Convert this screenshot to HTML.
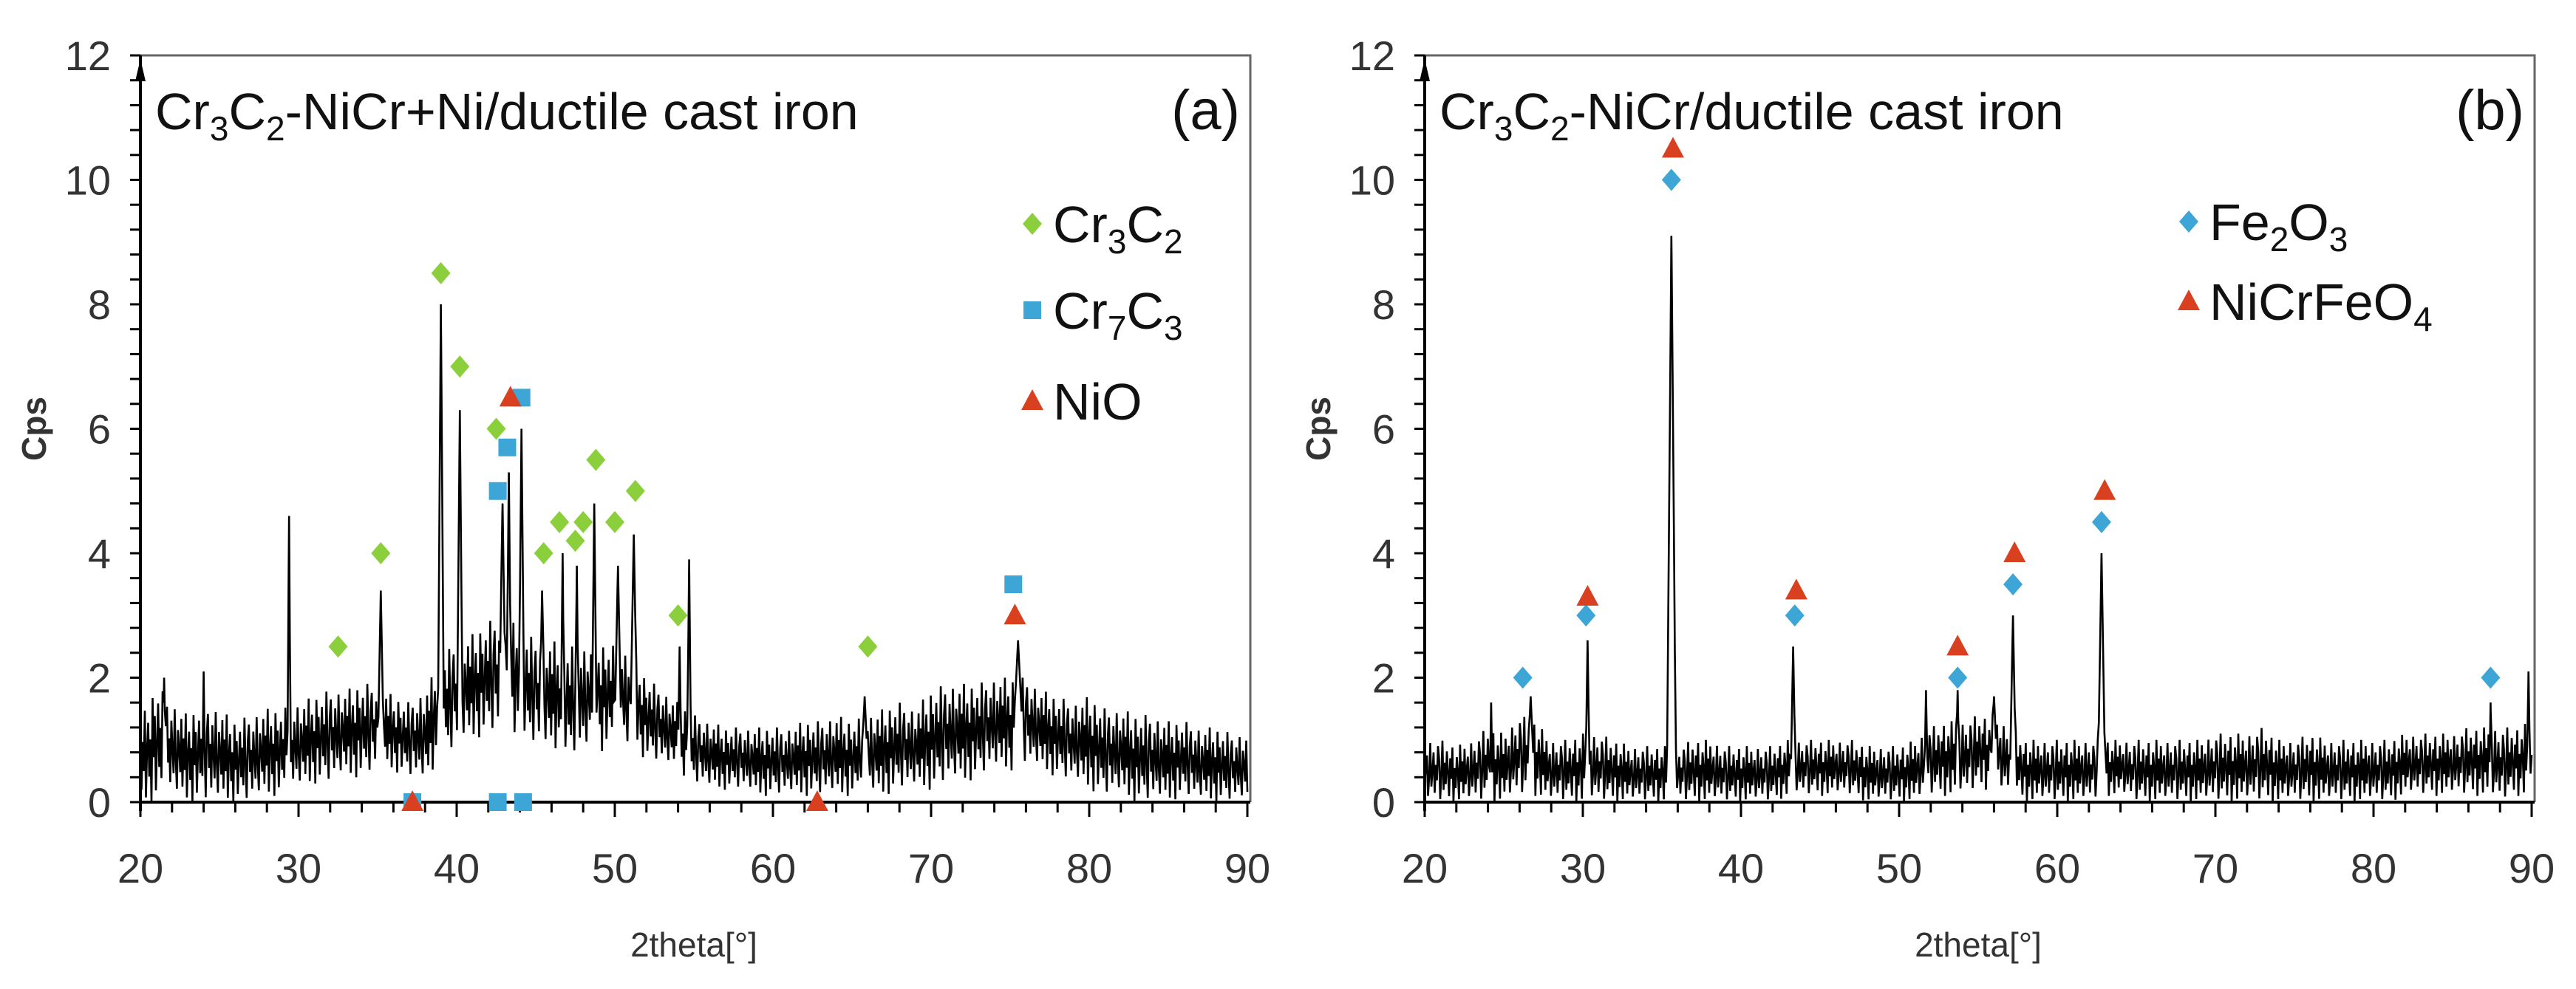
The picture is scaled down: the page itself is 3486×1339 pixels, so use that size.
<!DOCTYPE html>
<html><head><meta charset="utf-8"><style>
html,body{margin:0;padding:0;background:#fff;}
svg{display:block;font-family:"Liberation Sans",sans-serif;}
</style></head><body>
<svg id="chart" width="3486" height="1339" viewBox="0 0 3486 1339">
<g id="pa"></g>
<g id="pb"></g>
</svg>
<script>
const NS="http://www.w3.org/2000/svg";
// ---- data ----
const xTicks=[20,30,40,50,60,70,80,90];
const yTicks=[0,2,4,6,8,10,12];
// Panel a noise envelope per degree 20..90
const aLo=[0.0,0.0,0.1,0.0,0.0,0.0,0.0,0.0,0.1,0.1,0.2,0.3,0.3,0.4,0.4,0.5,0.5,0.4,0.3,0.6,0.9,1.0,1.1,1.1,1.0,0.9,0.8,0.7,0.8,0.8,0.9,0.8,0.7,0.6,0.5,0.3,0.2,0.2,0.2,0.1,0.1,0.1,0.1,0.1,0.1,0.1,0.1,0.1,0.2,0.2,0.2,0.3,0.3,0.4,0.5,0.5,0.6,0.5,0.4,0.3,0.2,0.1,0.1,0.0,0.0,0.0,0.1,0.0,0.0,0.0,0.0];
const aHi=[1.3,1.9,1.6,1.4,1.6,1.5,1.3,1.4,1.5,1.5,1.6,1.7,1.8,1.8,1.9,1.9,1.7,1.6,1.8,2.3,2.6,2.7,2.9,3.0,2.8,2.6,2.6,2.5,2.5,2.6,2.5,2.4,2.0,1.8,1.6,1.4,1.3,1.2,1.2,1.2,1.2,1.2,1.3,1.3,1.4,1.3,1.4,1.5,1.6,1.5,1.8,1.9,1.9,1.9,2.0,2.0,2.0,1.8,1.7,1.6,1.7,1.5,1.5,1.4,1.4,1.3,1.3,1.2,1.2,1.1,1.1];
const aPeakPos=[21.5,24.0,29.4,35.2,39.0,40.2,42.9,43.3,44.1,45.4,46.7,47.6,48.7,50.2,51.2,54.1,54.7,65.8,75.5];
const aPeakH=[2.0,2.1,4.6,3.4,8.0,6.3,4.8,5.3,6.0,3.4,4.0,3.8,4.8,3.8,4.3,2.5,3.9,1.7,2.6];
const aPeakW=[0.15,0.1,0.12,0.25,0.22,0.22,0.3,0.2,0.22,0.25,0.15,0.15,0.2,0.3,0.3,0.15,0.15,0.3,0.5];
// Panel b
const bLo=[0.0,0.0,0.0,0.0,0.0,0.0,0.1,0.1,0.0,0.0,0.0,0.0,0.0,0.0,0.0,0.0,0.0,0.0,0.0,0.0,0.0,0.0,0.0,0.1,0.1,0.1,0.1,0.1,0.0,0.0,0.0,0.0,0.1,0.1,0.1,0.2,0.2,0.1,0.0,0.0,0.0,0.0,0.0,0.1,0.1,0.0,0.0,0.0,0.0,0.0,0.0,0.0,0.0,0.0,0.0,0.0,0.0,0.0,0.0,0.0,0.0,0.0,0.1,0.1,0.1,0.1,0.1,0.1,0.0,0.1,0.1];
const bHi=[1.0,1.0,0.9,1.0,1.2,1.1,1.4,1.3,1.0,1.0,1.1,1.1,1.0,0.9,0.9,0.9,0.9,1.0,1.0,0.9,0.9,0.9,0.9,1.0,1.0,1.0,1.0,1.0,0.9,0.9,0.9,1.0,1.2,1.3,1.3,1.4,1.4,1.2,1.0,1.0,1.0,1.0,1.0,1.0,1.0,1.0,1.0,1.0,1.0,1.0,1.1,1.1,1.1,1.2,1.0,1.0,1.1,1.0,1.0,1.0,1.0,1.0,1.1,1.1,1.1,1.1,1.2,1.2,1.2,1.2,1.3];
const bPeakPos=[24.2,26.7,30.3,35.6,43.3,51.7,53.7,56.0,57.2,62.8,87.4,89.8];
const bPeakH=[1.6,1.7,2.6,9.1,2.5,1.8,1.8,1.7,3.0,4.0,1.6,2.1];
const bPeakW=[0.1,0.3,0.15,0.3,0.18,0.1,0.15,0.3,0.22,0.25,0.1,0.1];
const jitter=[0.9,0.15,0.7,0.35,1.0,0.05,0.55,0.8,0.25,0.6,0.0,0.95,0.4,0.75,0.1,0.5,0.85,0.3,0.65,0.2,1.0,0.45,0.05,0.7,0.9,0.35,0.6,0.15,0.8,0.5,0.25,0.95,0.4,0.1,0.75,0.55,0.3];
// markers
const aCr3C2X=[32.5,35.2,39.0,40.2,42.5,45.5,46.5,47.5,48.0,48.8,50.0,51.3,54.0,66.0];
const aCr3C2Y=[2.5,4.0,8.5,7.0,6.0,4.0,4.5,4.2,4.5,5.5,4.5,5.0,3.0,2.5];
const aCr7C3X=[37.2,42.6,43.2,44.1,42.6,44.2,75.2];
const aCr7C3Y=[0,5.0,5.7,6.5,0,0,3.5];
const aNiOX=[37.2,43.4,62.8,75.3];
const aNiOY=[0,6.5,0,3.0];
const bFe2O3X=[26.2,30.2,35.6,43.4,53.7,57.2,62.8,87.4];
const bFe2O3Y=[2.0,3.0,10.0,3.0,2.0,3.5,4.5,2.0];
const bNiCrX=[30.3,35.7,43.5,53.7,57.3,63.0];
const bNiCrY=[3.3,10.5,3.4,2.5,4.0,5.0];
const GREEN="#8ccf3c",BLUE="#3ea6d6",RED="#d8401f";

function mk(tag,attrs,parent){const e=document.createElementNS(NS,tag);for(const k in attrs)e.setAttribute(k,attrs[k]);parent.appendChild(e);return e;}

function panel(g,L,R,cfg){
  const T=75,B=1086;
  const sx=v=>L+(v-20)/70*(R-L), sy=v=>B-v/12*(B-T);
  let f=mk('path',{d:`M${L} ${T}H${R+4}V${B}`,fill:'none',stroke:'#666','stroke-width':3},g);
  
  // sample grid: regular steps plus exact peak positions
  let xs=[];
  for(let x=20;x<=90.0001;x+=0.07)xs.push({x:x,k:xs.length});
  cfg.pp.forEach(p=>xs.push({x:p,k:-1}));
  xs.sort((a,b)=>a.x-b.x);
  let pts=[];
  xs.forEach(o=>{
    const x=o.x;
    const i=Math.min(69,Math.floor(x-20)),t=x-20-i;
    const lo=cfg.lo[i]*(1-t)+cfg.lo[i+1]*t, hi=cfg.hi[i]*(1-t)+cfg.hi[i+1]*t;
    let v=o.k>=0?lo+(hi-lo)*cfg.jit[o.k%cfg.jit.length]:lo;
    for(let k=0;k<cfg.pp.length;k++){const d=(x-cfg.pp[k])/cfg.pw[k];const p=cfg.ph[k]*Math.max(0,1-Math.abs(d));if(p>v)v=p;}
    pts.push(sx(x).toFixed(1)+','+sy(v).toFixed(1));
  });
  let s=mk('polyline',{points:pts.join(' '),fill:'none',stroke:'#000','stroke-width':2.6,'stroke-linejoin':'miter'},g);
  
  let ax=mk('line',{x1:L,y1:B,x2:R+4,y2:B,stroke:'#000','stroke-width':4},g);
  
  let ay=mk('line',{x1:L,y1:B+12,x2:L,y2:T,stroke:'#000','stroke-width':4},g);
  
  let ar=mk('path',{d:`M${L-7} ${T+35}L${L} ${T+5}L${L+7} ${T+35}Z`,fill:'#000'},g);
  
  for(let v=0;v<=12.001;v+=0.4){let t=mk('line',{x1:L-14,y1:sy(v),x2:L,y2:sy(v),stroke:'#000','stroke-width':3},g);
    }
  for(let v=20;v<=90;v+=2){let t=mk('line',{x1:sx(v),y1:B,x2:sx(v),y2:B+(v%10==0?20:14),stroke:'#000','stroke-width':3},g);
    }
  yTicks.forEach(v=>{let t=mk('text',{x:L-40,y:sy(v)+20,'text-anchor':'end','font-size':56,fill:'#333'},g);t.textContent=v;
    });
  xTicks.forEach(v=>{let t=mk('text',{x:sx(v),y:1195,'text-anchor':'middle','font-size':56,fill:'#333'},g);t.textContent=v;
    });
  let xt=mk('text',{x:(L+R)/2,y:1295,'text-anchor':'middle','font-size':46,fill:'#333'},g);xt.textContent='2theta[°]';
  
  let yt=mk('text',{x:0,y:0,transform:`translate(${L-128},${sy(6)}) rotate(-90)`,'text-anchor':'middle','font-size':46,'font-weight':'bold',fill:'#333'},g);yt.textContent='Cps';
  
  let ti=mk('text',{x:L+20,y:175,'font-size':70,fill:'#111'},g);
  ti.innerHTML=cfg.title;
  
  let lb=mk('text',{x:R-10,y:175,'text-anchor':'end','font-size':76,fill:'#111'},g);lb.textContent=cfg.label;
  
  return {sx,sy};
}
function marker(g,type,cx,cy,color,name){
  let e;
  if(type==='d')e=mk('path',{d:`M${cx} ${cy-15}L${cx+13} ${cy}L${cx} ${cy+15}L${cx-13} ${cy}Z`,fill:color},g);
  else if(type==='s')e=mk('rect',{x:cx-12,y:cy-12,width:24,height:24,fill:color},g);
  else e=mk('path',{d:`M${cx} ${cy-16}L${cx+15} ${cy+12}L${cx-15} ${cy+12}Z`,fill:color},g);
  
  
}
function legendRow(g,type,color,x,y,html,name){
  marker(g,type,x,y,color,name+'-legend-marker');
  let t=mk('text',{x:x+28,y:y+25,'font-size':70,fill:'#111'},g);t.innerHTML=html;
  
}
const sub=s=>`<tspan dy="15" font-size="46">${s}</tspan><tspan dy="-15">`;
const ga=document.getElementById('pa');
const A=panel(ga,190,1688,{lo:aLo,hi:aHi,pp:aPeakPos,ph:aPeakH,pw:aPeakW,jit:jitter,
  title:`Cr${sub('3')}C</tspan>${sub('2')}-NiCr+Ni/ductile cast iron</tspan>`,label:'(a)'});
aCr3C2X.forEach((x,i)=>marker(ga,'d',A.sx(x),A.sy(aCr3C2Y[i]),GREEN,'cr3c2-marker'));
aCr7C3X.forEach((x,i)=>marker(ga,'s',A.sx(x),A.sy(aCr7C3Y[i]),BLUE,'cr7c3-marker'));
aNiOX.forEach((x,i)=>marker(ga,'t',A.sx(x),A.sy(aNiOY[i]),RED,'nio-marker'));
legendRow(ga,'d',GREEN,1397,303,`Cr${sub('3')}C</tspan>${sub('2')}</tspan>`,'cr3c2');
legendRow(ga,'s',BLUE,1397,420,`Cr${sub('7')}C</tspan>${sub('3')}</tspan>`,'cr7c3');
legendRow(ga,'t',RED,1397,543,'NiO','nio');
const gb=document.getElementById('pb');
const Bp=panel(gb,1928,3426,{lo:bLo,hi:bHi,pp:bPeakPos,ph:bPeakH,pw:bPeakW,jit:jitter.slice().reverse(),
  title:`Cr${sub('3')}C</tspan>${sub('2')}-NiCr/ductile cast iron</tspan>`,label:'(b)'});
bFe2O3X.forEach((x,i)=>marker(gb,'d',Bp.sx(x),Bp.sy(bFe2O3Y[i]),BLUE,'fe2o3-marker'));
bNiCrX.forEach((x,i)=>marker(gb,'t',Bp.sx(x),Bp.sy(bNiCrY[i]),RED,'nicrfeo4-marker'));
legendRow(gb,'d',BLUE,2962,300,`Fe${sub('2')}O</tspan>${sub('3')}</tspan>`,'fe2o3');
legendRow(gb,'t',RED,2962,408,`NiCrFeO${sub('4')}</tspan>`,'nicrfeo4');
</script>
</body></html>
